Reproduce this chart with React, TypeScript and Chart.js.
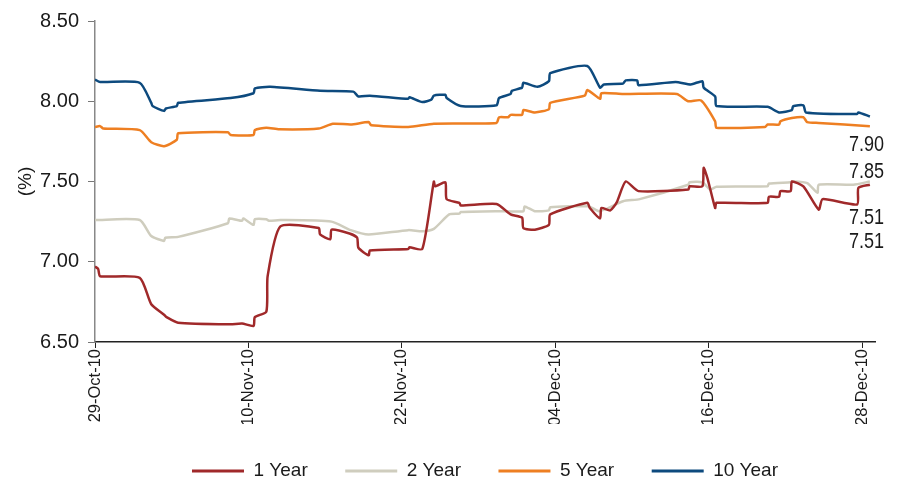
import { useEffect, useRef } from "react";
import { Chart, registerables } from "chart.js";

Chart.register(...registerables);

// x positions are days after 29-Oct-10
const tickDays = [0, 12, 24, 36, 48, 60];
const tickLabels = ["29-Oct-10", "10-Nov-10", "22-Nov-10", "04-Dec-10", "16-Dec-10", "28-Dec-10"];
const seriesNames = ["1 Year", "2 Year", "5 Year", "10 Year"];

const oneYear: [number, number][] = [
  [0, 6.97], [0.25, 6.955], [0.4, 6.91], [3.5, 6.9], [4.4, 6.735], [5.4, 6.67], [5.6, 6.655],
  [6.5, 6.62], [10.6, 6.61], [11.5, 6.615], [12.4, 6.6], [12.5, 6.655], [13.4, 6.69], [13.5, 6.91],
  [14.5, 7.22], [17.5, 7.21], [17.6, 7.17], [18.4, 7.14], [18.5, 7.2], [19.9, 7.176], [20.5, 7.15],
  [20.6, 7.087], [21.4, 7.04], [21.5, 7.07], [24.5, 7.08], [24.6, 7.09], [25.6, 7.08], [26.5, 7.5],
  [26.6, 7.47], [27.4, 7.495], [27.5, 7.39], [28.5, 7.367], [28.6, 7.35], [31.4, 7.36], [32.5, 7.295],
  [33.4, 7.275], [33.5, 7.21], [34.4, 7.2], [35.5, 7.23], [35.6, 7.295], [38.5, 7.367], [38.7, 7.335],
  [39.5, 7.27], [39.6, 7.335], [40.3, 7.32], [40.8, 7.37], [41.5, 7.5], [42.5, 7.44], [46.4, 7.45],
  [46.5, 7.47], [47.5, 7.47], [47.6, 7.585], [47.9, 7.52], [48.5, 7.335], [48.6, 7.367], [52.6, 7.367],
  [52.7, 7.405], [53.5, 7.405], [53.6, 7.44], [54.4, 7.44], [54.5, 7.5], [55.4, 7.47], [56.6, 7.325],
  [56.9, 7.39], [59.6, 7.357], [59.7, 7.46], [60.6, 7.48],
];

const twoYear: [number, number][] = [
  [0, 7.26], [3.5, 7.26], [4.4, 7.16], [5.4, 7.13], [5.5, 7.15], [6.5, 7.155], [10.4, 7.24],
  [10.5, 7.27], [11.5, 7.255], [11.6, 7.27], [12.4, 7.23], [12.5, 7.265], [13.4, 7.265], [13.6, 7.255],
  [14.5, 7.26], [18.5, 7.25], [20.0, 7.197], [21.4, 7.17], [24.5, 7.197], [25.6, 7.19], [26.5, 7.205],
  [27.7, 7.295], [28.5, 7.3], [28.6, 7.31], [31.4, 7.315], [33.5, 7.315], [33.6, 7.345], [34.4, 7.315],
  [35.5, 7.32], [35.6, 7.34], [38.6, 7.345], [39.4, 7.315], [40.0, 7.33], [41.3, 7.377], [42.6, 7.39],
  [46.4, 7.48], [46.5, 7.495], [47.5, 7.495], [48.1, 7.45], [48.6, 7.467], [52.6, 7.47], [52.7, 7.487],
  [54.4, 7.495], [54.6, 7.5], [55.7, 7.49], [56.5, 7.43], [56.6, 7.48], [59.3, 7.48], [60.6, 7.5],
];

const fiveYear: [number, number][] = [
  [0, 7.84], [0.4, 7.845], [0.65, 7.83], [3.5, 7.82], [4.4, 7.745], [5.4, 7.72], [6.4, 7.76],
  [6.5, 7.8], [10.4, 7.807], [10.6, 7.79], [12.4, 7.79], [12.5, 7.82], [13.4, 7.835], [14.4, 7.825],
  [17.5, 7.83], [18.6, 7.86], [20.0, 7.855], [21.4, 7.87], [21.6, 7.85], [24.5, 7.84], [26.5, 7.86],
  [31.4, 7.865], [31.6, 7.9], [32.3, 7.9], [32.5, 7.915], [33.4, 7.915], [33.5, 7.945], [34.4, 7.93],
  [35.5, 7.95], [35.6, 7.99], [38.3, 8.035], [38.5, 8.07], [39.5, 8.015], [39.6, 8.05], [41.3, 8.045],
  [45.5, 8.045], [46.4, 8.0], [47.4, 8.005], [48.5, 7.875], [48.6, 7.835], [52.4, 7.84], [52.6, 7.855],
  [53.5, 7.855], [53.6, 7.875], [54.5, 7.895], [55.4, 7.9], [55.7, 7.87], [56.6, 7.865], [60.6, 7.845],
];

const tenYear: [number, number][] = [
  [0, 8.135], [0.4, 8.12], [3.5, 8.115], [4.4, 7.99], [4.5, 7.97], [5.4, 7.94], [5.55, 7.955],
  [6.4, 7.97], [6.5, 7.99], [10.6, 8.02], [12.4, 8.05], [12.5, 8.08], [13.7, 8.09], [17.6, 8.065],
  [20.2, 8.06], [20.6, 8.03], [21.5, 8.035], [24.5, 8.015], [24.6, 8.025], [25.6, 7.995], [26.3, 8.01],
  [26.5, 8.035], [27.4, 8.04], [27.5, 8.02], [28.6, 7.97], [31.4, 7.975], [31.6, 8.02], [32.5, 8.045],
  [32.6, 8.065], [33.4, 8.085], [33.5, 8.115], [34.6, 8.09], [35.5, 8.125], [35.6, 8.175], [38.5, 8.22],
  [39.5, 8.085], [39.8, 8.105], [41.3, 8.11], [41.5, 8.13], [42.4, 8.13], [42.5, 8.1], [45.4, 8.12],
  [46.6, 8.105], [47.5, 8.125], [47.6, 8.085], [48.5, 8.03], [48.6, 7.97], [52.6, 7.965], [53.5, 7.93],
  [54.5, 7.945], [54.6, 7.97], [55.4, 7.975], [55.6, 7.93], [59.6, 7.92], [59.7, 7.93], [60.6, 7.905],
];

const endLabels = ["7.90", "7.85", "7.51", "7.51"];
const endLabelLevels = [7.73, 7.56, 7.275, 7.125];

const SANS = "'Liberation Sans', Arial, sans-serif";
const TEXT = "#1a1a1a";
const COLORS = ["#A0292A", "#CFCDBE", "#EE7F22", "#0D4A7E"];

export default function App() {
  const ref = useRef<HTMLCanvasElement>(null);

  useEffect(() => {
    const endLabelPlugin = {
      id: "endLabels",
      afterDatasetsDraw(chart: any) {
        const { ctx, chartArea, scales } = chart;
        const squeeze = 0.82;
        ctx.save();
        ctx.font = `22px ${SANS}`;
        ctx.fillStyle = TEXT;
        ctx.textAlign = "right";
        ctx.textBaseline = "middle";
        endLabels.forEach((t, i) => {
          const y = scales.y.getPixelForValue(endLabelLevels[i]);
          ctx.save();
          ctx.translate(chartArea.right + 9, y);
          ctx.scale(squeeze, 1);
          ctx.fillText(t, 0, 0);
          ctx.restore();
        });
        ctx.restore();
      },
    };

    const series = [oneYear, twoYear, fiveYear, tenYear];
    const chart = new Chart(ref.current!, {
      type: "line",
      data: {
        datasets: series.map((s, i) => ({
          label: seriesNames[i],
          data: s.map(([x, y]) => ({ x, y })),
          borderColor: COLORS[i],
          backgroundColor: COLORS[i],
          borderWidth: 2.5,
          pointRadius: 0,
          tension: 0.2,
          fill: false,
        })),
      },
      options: {
        animation: false,
        responsive: false,
        layout: { padding: { top: 21, right: 26, left: 0, bottom: -7.5 } },
        plugins: {
          tooltip: { enabled: false },
          legend: {
            position: "bottom",
            fullSize: false,
            labels: {
              boxWidth: 52,
              boxHeight: 3,
              padding: 37.5,
              color: TEXT,
              font: { family: SANS, size: 19 },
              generateLabels: (c: any) =>
                c.data.datasets.map((d: any, i: number) => ({
                  text: d.label,
                  fillStyle: d.borderColor,
                  strokeStyle: d.borderColor,
                  lineWidth: 0,
                  hidden: false,
                  datasetIndex: i,
                  fontColor: TEXT,
                })),
            },
          },
        },
        scales: {
          x: {
            type: "linear",
            min: 0,
            max: 61,
            afterBuildTicks: (s: any) => {
              s.ticks = tickDays.map((v) => ({ value: v }));
            },
            afterFit: (s: any) => {
              s.height = 82;
            },
            ticks: {
              autoSkip: false,
              minRotation: 90,
              maxRotation: 90,
              padding: 1,
              color: TEXT,
              font: { family: SANS, size: 16.5 },
              callback: (_v: any, i: number) => tickLabels[i],
            },
            grid: { drawOnChartArea: false, drawTicks: true, tickLength: 6, color: "#222", lineWidth: 1 },
            border: { color: "#222", width: 1.5 },
          },
          y: {
            type: "linear",
            min: 6.5,
            max: 8.5,
            afterFit: (s: any) => {
              s.width = 95;
            },
            ticks: {
              stepSize: 0.5,
              padding: 9,
              color: TEXT,
              font: { family: SANS, size: 20 },
              callback: (v: any) => Number(v).toFixed(2),
            },
            grid: { drawOnChartArea: false, drawTicks: true, tickLength: 7, color: "#777", lineWidth: 1 },
            border: { color: "#888", width: 1.5 },
            title: {
              display: true,
              text: "(%)",
              color: TEXT,
              font: { family: SANS, size: 19 },
              padding: { top: 14, bottom: 0 },
            },
          },
        },
      } as any,
      plugins: [endLabelPlugin],
    });
    return () => chart.destroy();
  }, []);

  return (
    <div style={{ position: "fixed", left: 0, top: 0, width: 901, height: 483, background: "#fff" }}>
      <canvas ref={ref} width={901} height={483} style={{ display: "block" }} />
    </div>
  );
}
